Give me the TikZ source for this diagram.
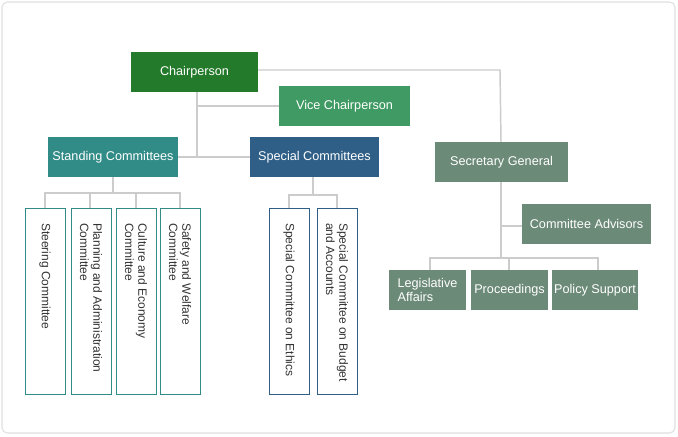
\documentclass[tikz,border=0pt]{standalone}
\usepackage{fontspec}
\setmainfont{Liberation Sans}
\begin{document}
\begin{tikzpicture}[x=0.75pt,y=-0.75pt,
  ln/.style={draw=black!20,line width=1.1pt},
  bx/.style 2 args={draw=none,text=white,font=\fontsize{9.5}{10.5}\selectfont,minimum width=#1*0.75pt,minimum height=#2*0.75pt,inner sep=0pt,align=center},
  tall/.style={draw=#1,fill=white,line width=0.6pt,minimum width=30pt,minimum height=139.5pt,inner sep=0pt},
  vt/.style={rotate=-90,anchor=west,align=left,font=\fontsize{9}{10}\selectfont,text=black!80,inner sep=0pt}]
\useasboundingbox (0,0) rectangle (678,436);
\draw[draw=black!12,fill=white,rounded corners=4pt,line width=0.8pt] (2,2) rectangle (675,433);
\definecolor{cg}{HTML}{237A2A}\definecolor{vg}{HTML}{3F9A63}
\definecolor{st}{HTML}{318B86}\definecolor{sp}{HTML}{2F5F87}
\definecolor{sg}{HTML}{6C8A78}
% lines
\coordinate (c1) at (500,70);
\coordinate (j1) at (197,157);
\coordinate (j2) at (113,193);
\coordinate (j3) at (313,195);
\coordinate (j4) at (501,258);
\draw[ln] (258,70) -- (c1) -- (501,142);
\draw[ln] (197,92) -- (j1);
\draw[ln] (197,106) -- (279,106);
\draw[ln] (178,157) -- (250,157);
\draw[ln] (113,177) -- (j2);
\draw[ln] (45,208) -- (45,193) -- (180,193) -- (180,208);
\draw[ln] (90,193) -- (90,208); \draw[ln] (136,193) -- (136,208);
\draw[ln] (313,177) -- (j3);
\draw[ln] (289,208) -- (289,195) -- (337,195) -- (337,208);
\draw[ln] (501,182) -- (j4);
\draw[ln] (501,226) -- (522,226);
\draw[ln] (430,270) -- (430,258) -- (598,258) -- (598,270);
\draw[ln] (509,258) -- (509,270);
% boxes
\node[bx={127}{40},fill=cg] (chair) at (194.5,72) {Chairperson};
\node[bx={131}{40},fill=vg] (vice) at (344.5,106) {Vice Chairperson};
\node[bx={130}{40},fill=st] (stand) at (113,157) {Standing Committees};
\node[bx={129}{40},fill=sp] (spec) at (314.5,157) {Special Committees};
\node[bx={133}{40},fill=sg] (sec) at (501.5,162) {Secretary General};
\node[bx={129}{40},fill=sg] (adv) at (586.5,224) {Committee Advisors};
\node[bx={77}{40},fill=sg,align=left] (leg) at (427.5,290) {Legislative\\ Affairs};
\node[bx={77}{40},fill=sg] (proc) at (509.5,290) {Proceedings};
\node[bx={86}{40},fill=sg] (pol) at (595,290) {Policy Support};
\node[tall=st] (t1) at (45,301) {};
\node[tall=st] (t2) at (91,301) {};
\node[tall=st] (t3) at (136,301) {};
\node[tall=st] (t4) at (180,301) {};
\node[tall=sp] (t5) at (289,301) {};
\node[tall=sp] (t6) at (337,301) {};
\node[vt] at (45,223) {Steering Committee};
\node[vt] at (91,223) {Planning and Administration\\Committee};
\node[vt] at (136,223) {Culture and Economy\\Committee};
\node[vt] at (180,223) {Safety and Welfare\\Committee};
\node[vt] at (289,223) {Special Committee on Ethics};
\node[vt] at (337,223) {Special Committee on Budget\\and Accounts};
\end{tikzpicture}
\end{document}
